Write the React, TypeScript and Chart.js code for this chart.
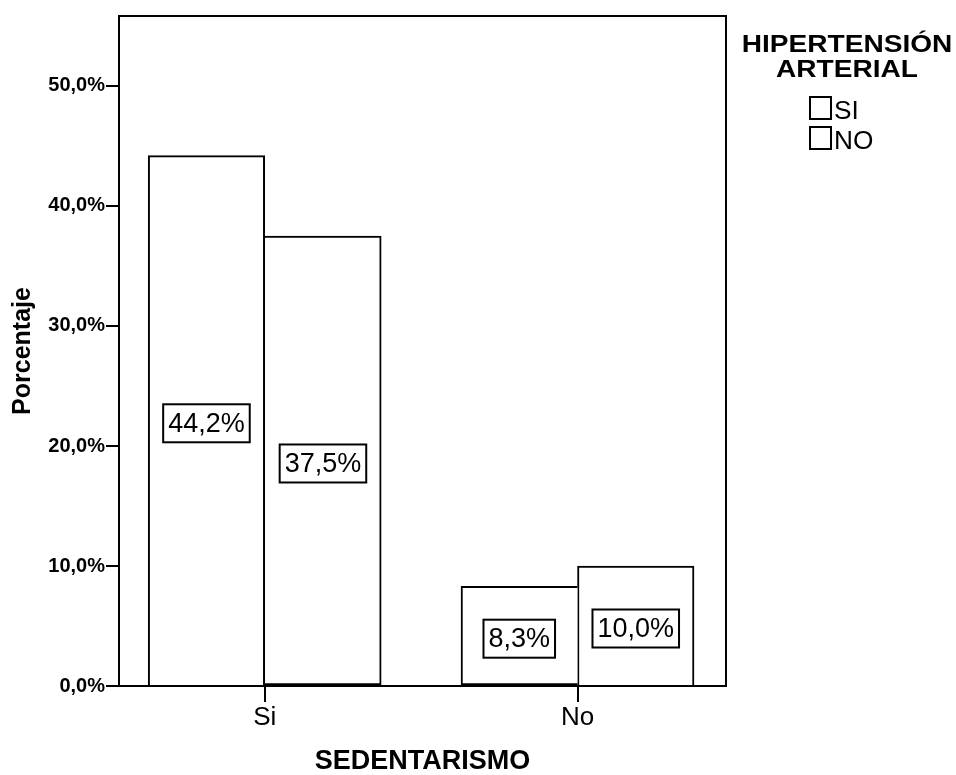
import React, { useEffect, useRef } from 'react';
import { Chart, registerables } from 'chart.js';

Chart.register(...registerables);

// ---- data ----
const categories = ['Si', 'No'];
const seriesLabels = ['SI', 'NO'];
const valuesSI = [44.2, 8.3];
const valuesNO = [37.5, 10.0];
const yTicks = [0, 10, 20, 30, 40, 50];
const xTitle = 'SEDENTARISMO';
const yTitle = 'Porcentaje';
const legendTitle = ['HIPERTENSIÓN', 'ARTERIAL'];

const FONT = '"Liberation Sans", Arial, Helvetica, sans-serif';
const fmt = (v: number) => v.toFixed(1).replace('.', ',') + '%';
const seriesValues = [valuesSI, valuesNO];

const frameAndLabels = {
  id: 'frameAndLabels',
  afterDatasetsDraw(chart: any) {
    const ctx = chart.ctx;
    const { left, top, right, bottom } = chart.chartArea;
    ctx.save();
    // frame
    ctx.strokeStyle = '#000';
    ctx.lineWidth = 2;
    ctx.strokeRect(left, top, right - left, bottom - top);
    // value labels
    ctx.font = `27px ${FONT}`;
    ctx.textAlign = 'center';
    ctx.textBaseline = 'middle';
    chart.data.datasets.forEach((ds: any, di: number) => {
      const meta = chart.getDatasetMeta(di);
      meta.data.forEach((el: any, i: number) => {
        const v = seriesValues[di][i];
        const text = fmt(v);
        const { x, y, base } = el.getProps(['x', 'y', 'base'], true);
        const cy = (y + base) / 2 + 3;
        const w = ctx.measureText(text).width + 10;
        const h = 38;
        ctx.fillStyle = '#fff';
        ctx.fillRect(x - w / 2, cy - h / 2, w, h);
        ctx.strokeStyle = '#000';
        ctx.lineWidth = 2;
        ctx.strokeRect(x - w / 2, cy - h / 2, w, h);
        ctx.fillStyle = '#000';
        ctx.fillText(text, x, cy + 1);
      });
    });
    ctx.restore();
  },
  afterDraw(chart: any) {
    const ctx = chart.ctx;
    const { right } = chart.chartArea;
    const cx = right + 121;
    ctx.save();
    ctx.fillStyle = '#000';
    ctx.textBaseline = 'alphabetic';
    ctx.textAlign = 'center';
    ctx.font = `bold 24px ${FONT}`;
    legendTitle.forEach((line, i) => {
      ctx.save();
      ctx.translate(cx, 52 + i * 25);
      ctx.scale(1.17, 1);
      ctx.fillText(line, 0, 0);
      ctx.restore();
    });
    ctx.font = `25px ${FONT}`;
    ctx.textAlign = 'left';
    chart.data.datasets.forEach((ds: any, i: number) => {
      const by = 97 + i * 30;
      ctx.fillStyle = '#fff';
      ctx.fillRect(right + 84, by, 21, 22);
      ctx.strokeStyle = '#000';
      ctx.lineWidth = 2;
      ctx.strokeRect(right + 84, by, 21, 22);
      ctx.fillStyle = '#000';
      ctx.save();
      ctx.translate(right + 108, by + 22);
      ctx.scale(1.05, 1);
      ctx.fillText(ds.label, 0, 0);
      ctx.restore();
    });
    ctx.restore();
  },
};

export default function App() {
  const ref = useRef<HTMLCanvasElement | null>(null);
  useEffect(() => {
    if (!ref.current) return;
    const skip = (ctx: any) => {
      const i = ctx.dataIndex;
      const d = ctx.datasetIndex;
      const own = seriesValues[d][i];
      const other = seriesValues[1 - d][i];
      if (own < other) return d === 0 ? 'right' : 'left';
      return 'start';
    };
    const chart = new Chart(ref.current, {
      type: 'bar',
      data: {
        datasets: seriesLabels.map((label, d) => ({
          label,
          data: categories.map((_, i) => ({ x: i, y: seriesValues[d][i] })),
          backgroundColor: '#ffffff',
          borderColor: '#000000',
          borderWidth: 2,
          borderSkipped: skip,
          barThickness: 116.5,
        })),
      },
      options: {
        animation: false,
        responsive: false,
        events: [],
        layout: { padding: { top: 16, right: 230, left: 0, bottom: 0 } },
        plugins: {
          legend: { display: false },
          tooltip: { enabled: false },
        },
        scales: {
          x: {
            type: 'linear',
            offset: false,
            min: -0.4658,
            max: 1.4747,
            afterBuildTicks: (s: any) => {
              s.ticks = categories.map((_, i) => ({ value: i }));
            },
            afterFit: (s: any) => {
              s.height = 89;
            },
            grid: { offset: false, drawOnChartArea: false, drawTicks: true, tickLength: 16, color: '#000', lineWidth: 2 },
            border: { display: false },
            ticks: {
              callback: (v: any) => categories[Number(v)] ?? '',
              font: { family: FONT, size: 26 },
              color: '#000',
              padding: 0,
              maxRotation: 0,
              autoSkip: false,
            },
            title: {
              display: true,
              text: xTitle,
              font: { family: FONT, size: 27, weight: 'bold', lineHeight: 1 },
              color: '#000',
              padding: { top: 0, bottom: 0 },
            },
          },
          y: {
            min: 0,
            max: 55.83,
            afterBuildTicks: (s: any) => {
              s.ticks = yTicks.map((v) => ({ value: v }));
            },
            afterFit: (s: any) => {
              s.width = 119;
            },
            grid: { drawOnChartArea: false, drawTicks: true, tickLength: 13, color: '#000', lineWidth: 2 },
            border: { display: false },
            ticks: {
              callback: (v: any) => fmt(Number(v)),
              font: { family: FONT, size: 20, weight: 'bold' },
              color: '#000',
              padding: 1,
            },
            title: {
              display: true,
              text: yTitle,
              font: { family: FONT, size: 25, weight: 'bold' },
              color: '#000',
              padding: { top: 8, bottom: 0 },
            },
          },
        },
      },
      plugins: [frameAndLabels],
    } as any);
    return () => chart.destroy();
  }, []);
  return (
    <div style={{ position: 'absolute', left: 0, top: 0, width: 956, height: 775, background: '#fff' }}>
      <canvas ref={ref} width={956} height={775} style={{ display: 'block' }} />
    </div>
  );
}
